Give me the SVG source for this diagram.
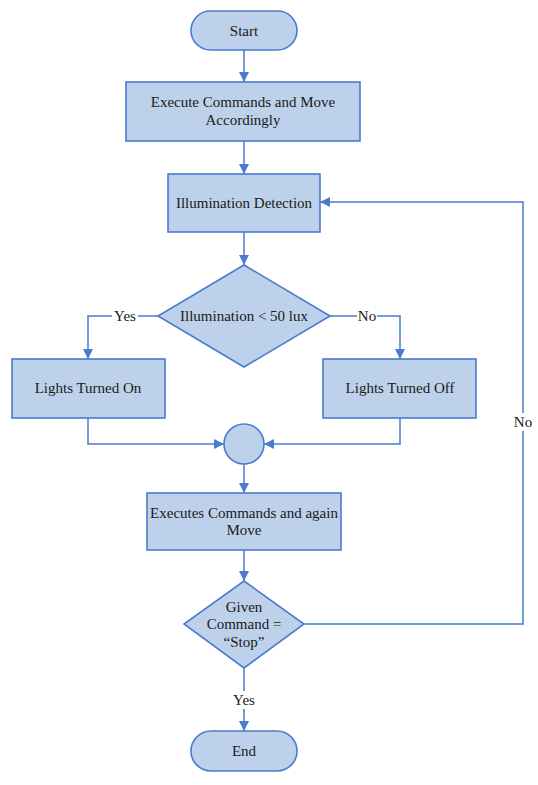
<svg xmlns="http://www.w3.org/2000/svg" width="538" height="785" viewBox="0 0 538 785">
<style>
.n{fill:#bdd1ea;stroke:#4a7bd0;stroke-width:1.6}
.c{fill:none;stroke:#4a7bd0;stroke-width:1.5}
text{font-family:'Liberation Serif','Times New Roman','DejaVu Serif',serif;font-size:15px;fill:#1a1a1a;text-anchor:middle;dominant-baseline:central}
.bg{fill:#ffffff}
</style>
<defs>
<marker id="a" markerUnits="userSpaceOnUse" markerWidth="10" markerHeight="10" refX="10" refY="5" orient="auto">
<path d="M0,0 L10,5 L0,10 z" fill="#4a7bd0"/>
</marker>
</defs>
<rect width="538" height="785" fill="#ffffff"/>
<g id="connectors">
<path class="c" d="M244,50 V82" marker-end="url(#a)"/>
<path class="c" d="M244,141 V174" marker-end="url(#a)"/>
<path class="c" d="M244,232 V265" marker-end="url(#a)"/>
<path class="c" d="M158,316 H88 V359" marker-end="url(#a)"/>
<path class="c" d="M330,316 H400 V359" marker-end="url(#a)"/>
<path class="c" d="M88,418 V444 H224" marker-end="url(#a)"/>
<path class="c" d="M400,418 V444 H264" marker-end="url(#a)"/>
<path class="c" d="M244,464 V493" marker-end="url(#a)"/>
<path class="c" d="M244,550 V581" marker-end="url(#a)"/>
<path class="c" d="M244,668 V731" marker-end="url(#a)"/>
<path class="c" d="M304,624 H523 V202 H320" marker-end="url(#a)"/>
<rect class="bg" x="112" y="308" width="26" height="16"/>
<text x="125" y="316">Yes</text>
<rect class="bg" x="357" y="308" width="20" height="16"/>
<text x="367" y="316">No</text>
<rect class="bg" x="231" y="691" width="26" height="18"/>
<text x="244" y="700">Yes</text>
<rect class="bg" x="513" y="413" width="20" height="18"/>
<text x="523" y="422">No</text>
</g>
<g id="start">
<rect class="n" x="191" y="11" width="106" height="39" rx="19.5"/>
<text x="244" y="31">Start</text>
</g>
<g id="execute">
<rect class="n" x="126" y="82" width="234" height="59"/>
<text x="243" y="102">Execute Commands and Move</text>
<text x="243" y="120">Accordingly</text>
</g>
<g id="illumination">
<rect class="n" x="168" y="174" width="152" height="58"/>
<text x="244" y="203">Illumination Detection</text>
</g>
<g id="decision1">
<polygon class="n" points="244,265 330,316 244,367 158,316"/>
<text x="244" y="316">Illumination &lt; 50 lux</text>
</g>
<g id="lightsOn">
<rect class="n" x="12" y="359" width="153" height="59"/>
<text x="88" y="388">Lights Turned On</text>
</g>
<g id="lightsOff">
<rect class="n" x="323" y="359" width="153" height="59"/>
<text x="400" y="388">Lights Turned Off</text>
</g>
<g id="merge">
<circle class="n" cx="244" cy="444" r="20"/>
</g>
<g id="executes">
<rect class="n" x="147" y="493" width="194" height="57"/>
<text x="244" y="513">Executes Commands and again</text>
<text x="244" y="530">Move</text>
</g>
<g id="decision2">
<polygon class="n" points="244,581 304,624 244,668 184,624"/>
<text x="244" y="607">Given</text>
<text x="244" y="624">Command =</text>
<text x="244" y="642">“Stop”</text>
</g>
<g id="end">
<rect class="n" x="191" y="731" width="106" height="40" rx="20"/>
<text x="244" y="751">End</text>
</g>
</svg>
